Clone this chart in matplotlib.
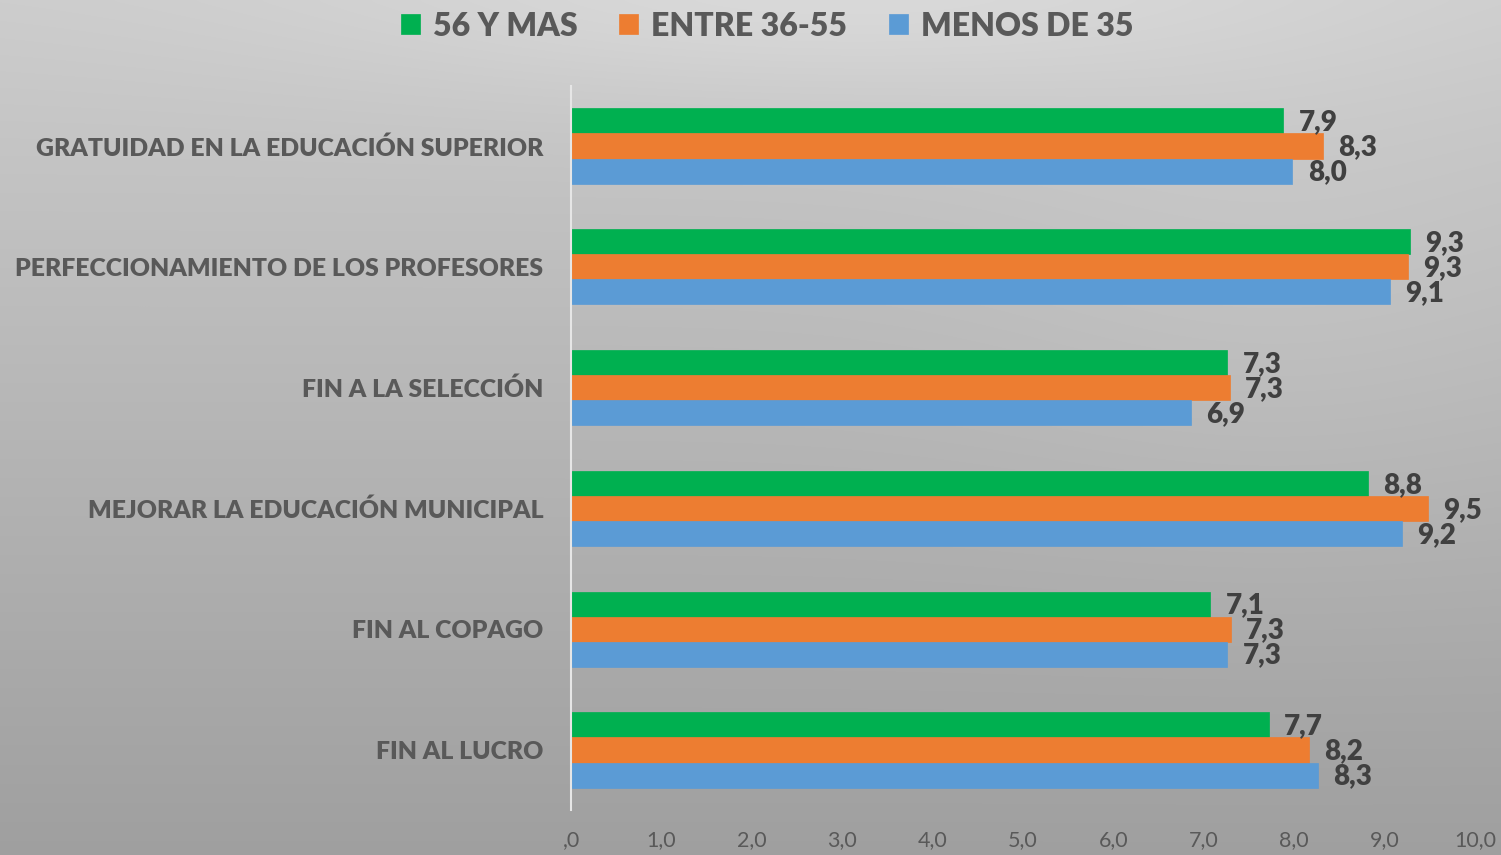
import numpy as np
import matplotlib
matplotlib.use("Agg")
import matplotlib.pyplot as plt

categories = ["GRATUIDAD EN LA EDUCACIÓN SUPERIOR", "PERFECCIONAMIENTO DE LOS PROFESORES",
              "FIN A LA SELECCIÓN", "MEJORAR LA EDUCACIÓN MUNICIPAL", "FIN AL COPAGO", "FIN AL LUCRO"]
series_names = ["56 Y MAS", "ENTRE 36-55", "MENOS DE 35"]
green_vals = [7.88, 9.28, 7.26, 8.82, 7.07, 7.72]
orange_vals = [8.32, 9.26, 7.29, 9.48, 7.30, 8.16]
blue_vals = [7.98, 9.06, 6.86, 9.19, 7.26, 8.26]
x_ticks = [0, 1, 2, 3, 4, 5, 6, 7, 8, 9, 10]
x_tick_labels = [",0", "1,0", "2,0", "3,0", "4,0", "5,0", "6,0", "7,0", "8,0", "9,0", "10,0"]

colors = ["#00B050", "#ED7D31", "#5B9BD5"]
W, H = 1501, 855
fig = plt.figure(figsize=(W / 100, H / 100), dpi=100)

# background gradient
bg = fig.add_axes([0, 0, 1, 1])
yy, xx = np.mgrid[0:1:200j, 0:1:350j]
val = 0.80 - 0.175 * yy
val += 0.05 * np.exp(-(((xx - 0.55) / 0.35) ** 2 + ((yy - 0.0) / 0.12) ** 2))
val += 0.02 * np.exp(-((xx - 0.85) / 0.2) ** 2 - ((yy - 0.35) / 0.3) ** 2)
img = np.dstack([val, val, val])
bg.imshow(img, extent=[0, 1, 0, 1], aspect="auto", origin="upper", interpolation="bicubic")
bg.set_axis_off()

ax = fig.add_axes([571 / W, 1 - 810.4 / H, (1475 - 571) / W, (810.4 - 85.6) / H])
ax.patch.set_alpha(0)
y = np.arange(len(categories))
bh = 0.207
label_font = "Lato"
for k, (vals, c, name) in enumerate(zip([green_vals, orange_vals, blue_vals], colors, series_names)):
    pos = y + (k - 1) * bh
    ax.barh(pos, vals, height=bh, color=c, label=name, edgecolor=c, linewidth=0.5)
    for p, v in zip(pos, vals):
        ax.annotate(f"{v:.1f}".replace(".", ","), xy=(v, p), xytext=(11, -1), textcoords="offset points",
                    ha="left", va="center", fontsize=20, fontweight="heavy", color="#404040",
                    family=label_font)

ax.set_xlim(0, 10)
ax.set_ylim(len(categories) - 0.5, -0.5)
ax.set_yticks(y)
ax.set_yticklabels(categories, fontsize=17.8, fontweight="heavy", color="#595959", family=label_font)
ax.set_xticks(x_ticks)
ax.set_xticklabels(x_tick_labels, fontsize=15.5, color="#595959", family=label_font)
ax.tick_params(axis="y", length=0, pad=20)
ax.tick_params(axis="x", length=0, pad=14)
for s in ["top", "right", "bottom"]:
    ax.spines[s].set_visible(False)
ax.spines["left"].set_color("#e6e6e6")
ax.spines["left"].set_linewidth(1.5)

leg = fig.legend(loc="center", bbox_to_anchor=(767 / W, 1 - 26 / H), ncol=3, frameon=False,
                 prop={"family": label_font, "weight": "heavy", "size": 23},
                 handlelength=0.6, handleheight=0.6, handletextpad=0.4, columnspacing=1.3)
for t in leg.get_texts():
    t.set_color("#595959")

fig.savefig("out.png", dpi=100)
